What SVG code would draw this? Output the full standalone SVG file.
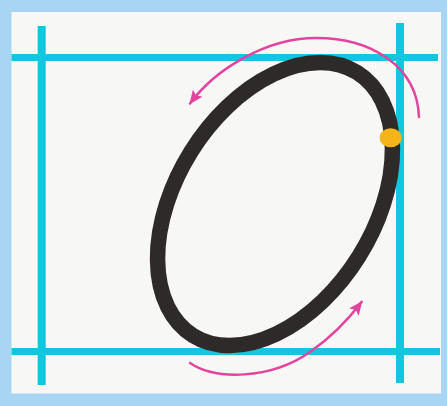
<svg xmlns="http://www.w3.org/2000/svg" width="447" height="406" viewBox="0 0 447 406">
  <style>
    .guide { stroke: #12c6e0; fill: none; }
    .arrow { stroke: #e2449e; stroke-width: 2.5; fill: none; stroke-linecap: round; }
  </style>
  <defs>
    <marker id="head" markerUnits="userSpaceOnUse" markerWidth="14" markerHeight="12" refX="13" refY="6" orient="auto">
      <path d="M0,0 L14,6 L0,12 L3,6 z" fill="#e2449e"/>
    </marker>
  </defs>
  <g id="frame">
    <rect x="0" y="0" width="447" height="406" fill="#a9d5f5"/>
    <rect x="11.5" y="12" width="429.5" height="381.5" fill="#f7f7f5"/>
  </g>
  <g id="guides">
    <line class="guide" x1="41.7" y1="26" x2="41.7" y2="385" stroke-width="8"/>
    <line class="guide" x1="400" y1="23" x2="400" y2="383" stroke-width="8"/>
    <line class="guide" x1="11.5" y1="57.5" x2="438" y2="57.5" stroke-width="7"/>
    <line class="guide" x1="11.5" y1="351.5" x2="440" y2="351.5" stroke-width="7"/>
  </g>
  <g id="letter">
    <ellipse cx="275" cy="204" rx="155" ry="99" transform="rotate(-58 275 204)" fill="none" stroke="#2f2a2a" stroke-width="15.5"/>
  </g>
  <g id="start-dot">
    <ellipse cx="390.7" cy="137.7" rx="11" ry="9.5" fill="#f5b417"/>
  </g>
  <g id="connectors">
    <path class="arrow" d="M419,117 C417,65 370,38 316,38 C265,38 215,70 190,103.5" marker-end="url(#head)"/>
    <path class="arrow" d="M190,363 C215,380 270,380 310,352 C330,338 348,320 361.7,301.7" marker-end="url(#head)"/>
  </g>
</svg>
